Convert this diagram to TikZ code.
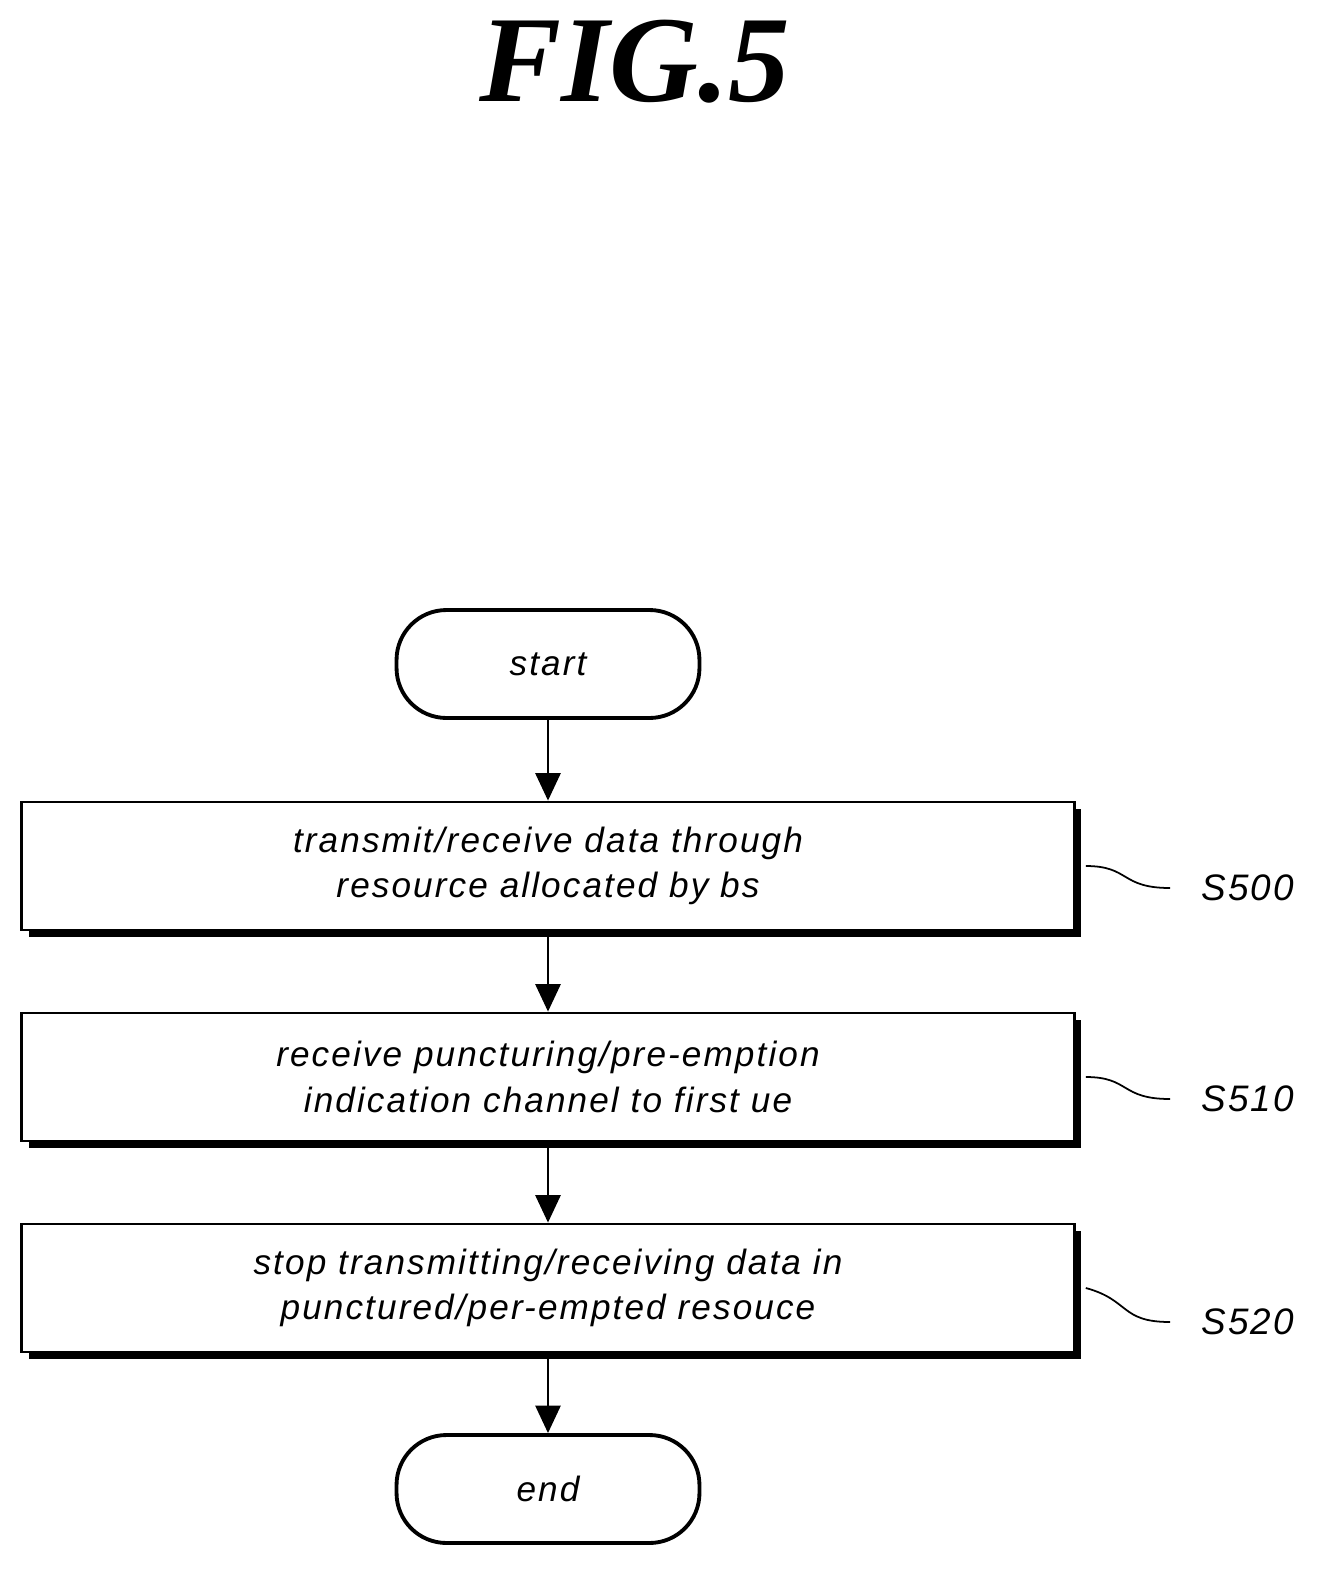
\documentclass[tikz,border=0pt]{standalone}
\usepackage{fontspec}
\setmainfont{Liberation Sans}[LetterSpace=6]
\newfontfamily\figfont{Liberation Serif}
\usetikzlibrary{positioning, shadows, arrows.meta}

\begin{document}
\begin{tikzpicture}[x=0.02cm, y=-0.02cm,
  stepbox/.style={draw, line width=1.6pt, fill=white, minimum width=21.06cm, minimum height=2.56cm,
    align=center, font=\fontsize{20}{26}\selectfont\itshape,
    drop shadow={fill=black, opacity=1, shadow xshift=0.14cm, shadow yshift=-0.14cm}},
  term/.style={draw, line width=2.2pt, rounded corners=1cm, minimum width=6.06cm, minimum height=2.16cm,
    font=\fontsize{20}{24}\selectfont\itshape},
  flow/.style={-{Triangle[length=0.55cm, width=0.5cm]}, line width=1.6pt},
  tag/.style={anchor=west, font=\fontsize{21}{24}\selectfont\itshape}]
\useasboundingbox (0,0) rectangle (1330,1589);
\node[font=\figfont\fontsize{70}{70}\selectfont\bfseries\itshape] (title) at (635,62) {FIG.5};

\node[term] (start) at (548,664) {start};
\node[stepbox] (b1) at (548,866) {transmit/receive data through\\resource allocated by bs};
\node[stepbox] (b2) at (548,1077) {receive puncturing/pre-emption\\indication channel to first ue};
\node[stepbox] (b3) at (548,1288) {stop transmitting/receiving data in\\punctured/per-empted resouce};
\node[term] (end) at (548,1489) {end};

\node[tag] (l1) at (1195,888) {S500};
\node[tag] (l2) at (1195,1099) {S510};
\node[tag] (l3) at (1195,1322) {S520};

\draw[flow] (start) -- (b1);
\draw[flow] (b1) -- (b2);
\draw[flow] (b2) -- (b3);
\draw[flow] (b3) -- (end);

% step labels
\draw[line width=1pt] ([xshift=0.2cm]b1.east) .. controls (1130,866) and (1120,888) .. ([xshift=-0.5cm]l1.west);
\draw[line width=1pt] ([xshift=0.2cm]b2.east) .. controls (1130,1077) and (1120,1099) .. ([xshift=-0.5cm]l2.west);
\draw[line width=1pt] ([xshift=0.2cm]b3.east) .. controls (1130,1300) and (1120,1322) .. ([xshift=-0.5cm]l3.west);
\end{tikzpicture}
\end{document}
